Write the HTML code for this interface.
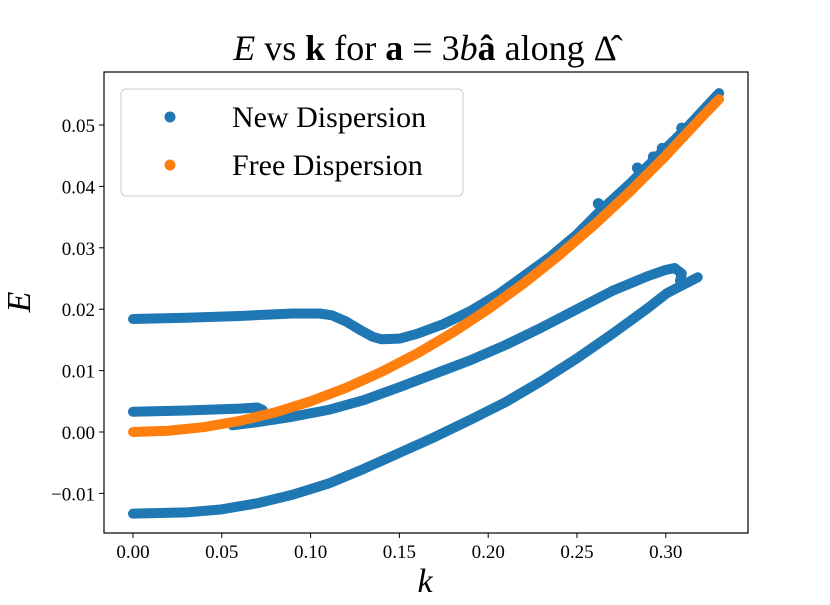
<!DOCTYPE html>
<html><head><meta charset="utf-8"><style>
body{margin:0;background:#fff;}
svg text{font-family:"Liberation Serif","DejaVu Serif",serif;}
</style></head><body>
<svg id="chart" width="830" height="600">
<rect x="0" y="0" width="830" height="600" fill="#fff"/>
<text x="425" y="60" text-anchor="middle" font-size="36"><tspan font-style="italic">E</tspan> vs <tspan font-weight="bold">k</tspan> for <tspan font-weight="bold">a</tspan> = 3<tspan font-style="italic">b</tspan><tspan font-weight="bold">â</tspan> along Δ̂</text>
<g id="plot"></g>
<g id="axes"></g>
<text x="425" y="592" text-anchor="middle" font-size="34" font-style="italic">k</text>
<text transform="translate(30,302) rotate(-90)" text-anchor="middle" font-size="34" font-style="italic">E</text>
<g>
<rect x="121" y="89" width="342" height="107" rx="5" fill="#fff" stroke="#ccc" stroke-width="1"/>
<g><circle cx="170" cy="117" r="5.5" fill="#1f77b4"/><text x="232" y="127" font-size="30">New Dispersion</text></g>
<g><circle cx="170" cy="165" r="5.5" fill="#ff7f0e"/><text x="232" y="175" font-size="30">Free Dispersion</text></g>
</g>
</svg>
<script>
const xTicks=[0,0.05,0.10,0.15,0.20,0.25,0.30];
const xTickLabels=["0.00","0.05","0.10","0.15","0.20","0.25","0.30"];
const yTicks=[-0.01,0,0.01,0.02,0.03,0.04,0.05];
const yTickLabels=["\u22120.01","0.00","0.01","0.02","0.03","0.04","0.05"];
const upperK=[0,0.03,0.06,0.09,0.105,0.112,0.12,0.128,0.135,0.14,0.15,0.16,0.175,0.19,0.2066,0.22,0.2348,0.25,0.263,0.28,0.295,0.31,0.33];
const upperE=[0.0184,0.0186,0.0189,0.0193,0.0193,0.0190,0.0180,0.0166,0.0155,0.0151,0.0152,0.0160,0.0176,0.0197,0.0226,0.0254,0.0285,0.0322,0.0360,0.0405,0.0448,0.0490,0.0552];
const middleK=[0,0.03,0.06,0.07,0.073];
const middleE=[0.0033,0.0035,0.0038,0.0040,0.0036];
const lowerMidK=[0.056,0.07,0.09,0.11,0.13,0.15,0.17,0.19,0.21,0.23,0.25,0.27,0.29,0.30,0.305,0.309,0.308];
const lowerMidE=[0.0011,0.0016,0.0025,0.0036,0.0052,0.0073,0.0095,0.0117,0.0142,0.0170,0.0200,0.0230,0.0254,0.0264,0.0267,0.0258,0.0246];
const bottomK=[0,0.03,0.05,0.07,0.09,0.11,0.13,0.15,0.17,0.19,0.21,0.23,0.25,0.27,0.29,0.3006,0.318];
const bottomE=[-0.0133,-0.0131,-0.0126,-0.0116,-0.0102,-0.0084,-0.0060,-0.0034,-0.0008,0.0020,0.0049,0.0083,0.0120,0.0160,0.0202,0.0226,0.0252];
const extraK=[0.262,0.284,0.293,0.298,0.309];
const extraE=[0.0372,0.0430,0.0448,0.0462,0.0495];
const freeK=[0,0.02,0.04,0.06,0.08,0.10,0.12,0.14,0.16,0.18,0.20,0.22,0.24,0.26,0.28,0.30,0.32,0.33];
const freeE=[0,0.0002,0.0008,0.0018,0.0032,0.005,0.0072,0.0098,0.0128,0.0162,0.02,0.0242,0.0288,0.0338,0.0392,0.045,0.0512,0.0542];
const X0=104,X1=748,Y0=72,Y1=533;
const xs=k=>133+k*1776;
const ys=e=>432-e*6140;
const NS="http://www.w3.org/2000/svg";
const plot=document.getElementById('plot'),axes=document.getElementById('axes');
function mk(t,a,p){const e=document.createElementNS(NS,t);for(const k in a)e.setAttribute(k,a[k]);p.appendChild(e);return e;}
function series(K,E,color,name){
  const pts=K.map((k,i)=>xs(k)+','+ys(E[i])).join(' ');
  const pl=mk('polyline',{points:pts,fill:'none',stroke:color,'stroke-width':10,'stroke-linejoin':'round','stroke-linecap':'round'},plot);
  
  
}
series(bottomK,bottomE,'#1f77b4','new-dispersion-bottom-branch');
series(lowerMidK,lowerMidE,'#1f77b4','new-dispersion-lower-middle-branch');
series(middleK,middleE,'#1f77b4','new-dispersion-middle-branch');
series(upperK,upperE,'#1f77b4','new-dispersion-upper-branch');
extraK.forEach((k,i)=>{const c=mk('circle',{cx:xs(k),cy:ys(extraE[i]),r:5.5,fill:'#1f77b4'},plot);
  
  });
series(freeK,freeE,'#ff7f0e','free-dispersion-series');
const fr=mk('rect',{x:X0,y:Y0,width:X1-X0,height:Y1-Y0,fill:'none',stroke:'#000','stroke-width':1.2},axes);


xTicks.forEach((t,i)=>{const x=xs(t);
  mk('line',{x1:x,x2:x,y1:Y1,y2:Y1+5,stroke:'#000'},axes);
  const tx=mk('text',{x:x,y:Y1+25,'text-anchor':'middle','font-size':19},axes);tx.textContent=xTickLabels[i];
  
  });
yTicks.forEach((t,i)=>{const y=ys(t);
  mk('line',{x1:X0-5,x2:X0,y1:y,y2:y,stroke:'#000'},axes);
  const tx=mk('text',{x:X0-9,y:y+7,'text-anchor':'end','font-size':19},axes);tx.textContent=yTickLabels[i];
  
  });
</script>
</body></html>
